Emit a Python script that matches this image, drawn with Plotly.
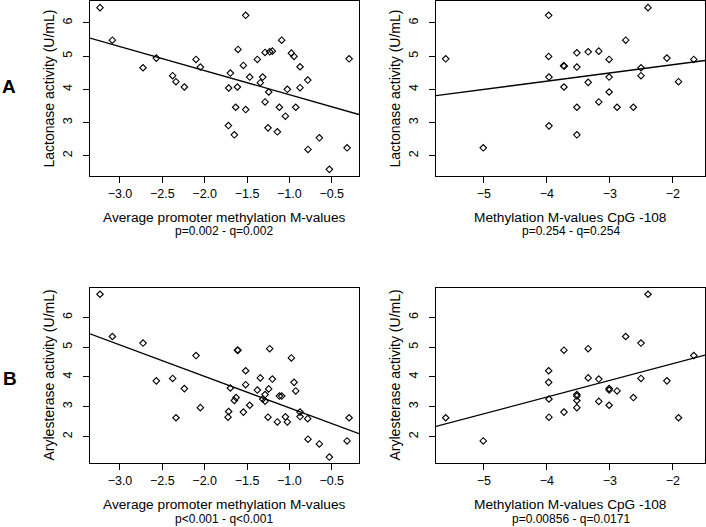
import numpy as np
import plotly.graph_objects as go

W, H = 706, 527

# ---- Data ----
avg_meth = [-3.236, -3.09, -2.728, -2.571, -2.378, -2.339, -2.240, -2.102, -2.051, -1.717,
            -1.697, -1.720, -1.650, -1.634, -1.614, -1.606, -1.543, -1.516, -1.516, -1.469,
            -1.378, -1.343, -1.315, -1.287, -1.287, -1.252, -1.244, -1.232, -1.201, -1.142,
            -1.118, -1.091, -1.047, -1.024, -0.976, -0.945, -0.925, -0.874, -0.874, -0.783,
            -0.780, -0.646, -0.528, -0.319, -0.295]
lact_avg = [6.46, 5.48, 4.65, 4.94, 4.41, 4.23, 4.07, 4.90, 4.67, 4.04,
            4.49, 2.91, 2.63, 3.46, 4.07, 5.20, 4.72, 6.23, 3.39, 4.37,
            4.90, 4.20, 4.37, 5.11, 3.62, 2.84, 3.92, 5.13, 5.15, 2.72,
            3.46, 5.48, 3.19, 4.00, 5.09, 4.99, 3.46, 4.68, 4.05, 4.28,
            2.19, 2.54, 1.59, 2.24, 4.92]

avg_meth_b = [-3.236, -3.09, -2.728, -2.571, -2.378, -2.339, -2.240, -2.102, -2.051, -1.724,
              -1.717, -1.697, -1.650, -1.630, -1.614, -1.606, -1.543, -1.516, -1.516, -1.469,
              -1.378, -1.343, -1.315, -1.287, -1.287, -1.252, -1.244, -1.232, -1.201, -1.142,
              -1.118, -1.091, -1.047, -1.024, -0.976, -0.945, -0.925, -0.874, -0.874, -0.783,
              -0.780, -0.646, -0.528, -0.319, -0.295]
aryl_avg = [6.78, 5.36, 5.14, 3.87, 3.95, 2.63, 3.61, 4.72, 2.97, 2.65,
            2.84, 3.63, 3.21, 3.31, 4.90, 4.90, 2.82, 4.21, 3.74, 3.05,
            3.56, 3.97, 3.26, 3.41, 3.19, 2.65, 3.60, 4.95, 3.93, 2.49,
            3.36, 3.36, 2.66, 2.49, 4.64, 3.82, 3.53, 2.82, 2.67, 2.60,
            1.91, 1.75, 1.31, 1.85, 2.63]

cpg_a = [-5.606, -5.01, -3.972, -3.972, -3.967, -3.967, -3.735, -3.724, -3.729, -3.524,
         -3.524, -3.524, -3.524, -3.344, -3.344, -3.176, -3.176, -3.012, -3.012, -3.012,
         -2.886, -2.749, -2.627, -2.506, -2.506, -2.395, -2.095, -1.910, -1.668]
lact_cpg = [4.92, 2.24, 6.23, 4.99, 4.37, 2.90, 4.71, 4.70, 4.07, 5.10,
            4.67, 3.46, 2.63, 5.13, 4.21, 5.15, 3.62, 4.90, 4.37, 3.92,
            3.46, 5.48, 3.46, 4.65, 4.41, 6.46, 4.94, 4.23, 4.90]

cpg_b = [-5.606, -5.01, -3.972, -3.972, -3.967, -3.967, -3.729, -3.729, -3.524, -3.524,
         -3.524, -3.524, -3.344, -3.344, -3.176, -3.176, -3.012, -3.012, -3.012, -2.886,
         -2.749, -2.627, -2.506, -2.506, -2.395, -2.095, -1.910, -1.668]
aryl_cpg = [2.63, 1.85, 4.21, 3.82, 3.26, 2.65, 4.90, 2.82, 3.41, 3.36,
            3.21, 2.97, 4.95, 3.97, 3.93, 3.18, 3.61, 3.56, 3.05, 3.53,
            5.36, 3.31, 5.14, 3.95, 6.78, 3.87, 2.63, 4.72]

x_title_avg = "Average promoter methylation M-values"
x_title_cpg = "Methylation M-values CpG -108"
y_title_lact = "Lactonase activity (U/mL)"
y_title_aryl = "Arylesterase activity (U/mL)"
stats = ["p=0.002 - q=0.002", "p=0.254 - q=0.254", "p&lt;0.001 - q&lt;0.001", "p=0.00856 - q=0.0171"]
ticks_avg = [-3.0, -2.5, -2.0, -1.5, -1.0, -0.5]
ticks_cpg = [-5, -4, -3, -2]
ticks_y = [2, 3, 4, 5, 6]

# ---- Layout geometry (pixels) ----
panels = [
    dict(x=avg_meth, y=lact_avg, box=(90, 1, 359, 176), xr=(-3.354, -0.178), yr=(1.39, 6.66),
         xt=ticks_avg, xf=".1f", xtitle=x_title_avg, ytitle=y_title_lact, stat=stats[0]),
    dict(x=cpg_a, y=lact_cpg, box=(436, 1, 705, 176), xr=(-5.76, -1.49), yr=(1.39, 6.66),
         xt=ticks_cpg, xf="d", xtitle=x_title_cpg, ytitle=y_title_lact, stat=stats[1]),
    dict(x=avg_meth_b, y=aryl_avg, box=(90, 288, 359, 463), xr=(-3.354, -0.178), yr=(1.11, 6.99),
         xt=ticks_avg, xf=".1f", xtitle=x_title_avg, ytitle=y_title_aryl, stat=stats[2]),
    dict(x=cpg_b, y=aryl_cpg, box=(436, 288, 705, 463), xr=(-5.76, -1.49), yr=(1.11, 6.99),
         xt=ticks_cpg, xf="d", xtitle=x_title_cpg, ytitle=y_title_aryl, stat=stats[3]),
]

FONT = "Liberation Sans, Arial, sans-serif"
fig = go.Figure()
layout = dict(width=W, height=H, margin=dict(l=0, r=0, t=0, b=0),
              paper_bgcolor="white", plot_bgcolor="white", showlegend=False,
              font=dict(family=FONT, color="black"))
annotations = []

for i, p in enumerate(panels, start=1):
    sx = "" if i == 1 else str(i)
    x0, y0, x1, y1 = p["box"]
    fig.add_trace(go.Scatter(x=p["x"], y=p["y"], mode="markers",
                             marker=dict(symbol="diamond-open", size=5, color="black",
                                         line=dict(width=1.1, color="black")),
                             xaxis="x" + sx, yaxis="y" + sx))
    slope, icpt = np.polyfit(p["x"], p["y"], 1)
    lx = np.array(p["xr"])
    fig.add_trace(go.Scatter(x=lx, y=icpt + slope * lx, mode="lines",
                             line=dict(color="black", width=1.3),
                             xaxis="x" + sx, yaxis="y" + sx))
    axcommon = dict(showline=True, mirror=True, linecolor="black", linewidth=1.3,
                    ticks="outside", ticklen=6, tickcolor="black", tickwidth=1,
                    showgrid=False, zeroline=False, tickfont=dict(size=12.5, family=FONT))
    layout["xaxis" + sx] = dict(axcommon, domain=[x0 / W, x1 / W], range=list(p["xr"]),
                                tickvals=p["xt"], tickformat=p["xf"],
                                anchor="y" + sx)
    layout["yaxis" + sx] = dict(axcommon, domain=[1 - y1 / H, 1 - y0 / H], range=list(p["yr"]),
                                tickvals=ticks_y, tickangle=-90, ticklabelstandoff=6,
                                anchor="x" + sx)
    cx = (x0 + x1) / 2
    annotations.append(dict(x=cx / W, y=1 - (y1 + 41.5) / H, xref="paper", yref="paper",
                            text=p["xtitle"], showarrow=False, font=dict(size=13.7),
                            xanchor="center", yanchor="middle"))
    annotations.append(dict(x=cx / W, y=1 - (y1 + 55.5) / H, xref="paper", yref="paper",
                            text=p["stat"], showarrow=False, font=dict(size=12),
                            xanchor="center", yanchor="middle"))
    annotations.append(dict(x=(x0 - 42) / W, y=1 - ((y0 + y1) / 2) / H, xref="paper", yref="paper",
                            text=p["ytitle"], showarrow=False, font=dict(size=14), textangle=-90,
                            xanchor="center", yanchor="middle"))

annotations.append(dict(x=9 / W, y=1 - 86 / H, xref="paper", yref="paper", text="<b>A</b>",
                        showarrow=False, font=dict(size=19), xanchor="center", yanchor="middle"))
annotations.append(dict(x=10 / W, y=1 - 378 / H, xref="paper", yref="paper", text="<b>B</b>",
                        showarrow=False, font=dict(size=19), xanchor="center", yanchor="middle"))
layout["annotations"] = annotations
fig.update_layout(**layout)
fig.write_html("out.html", config={"displayModeBar": False},
               post_script="document.body.style.margin='0';document.body.style.overflow='hidden';")
